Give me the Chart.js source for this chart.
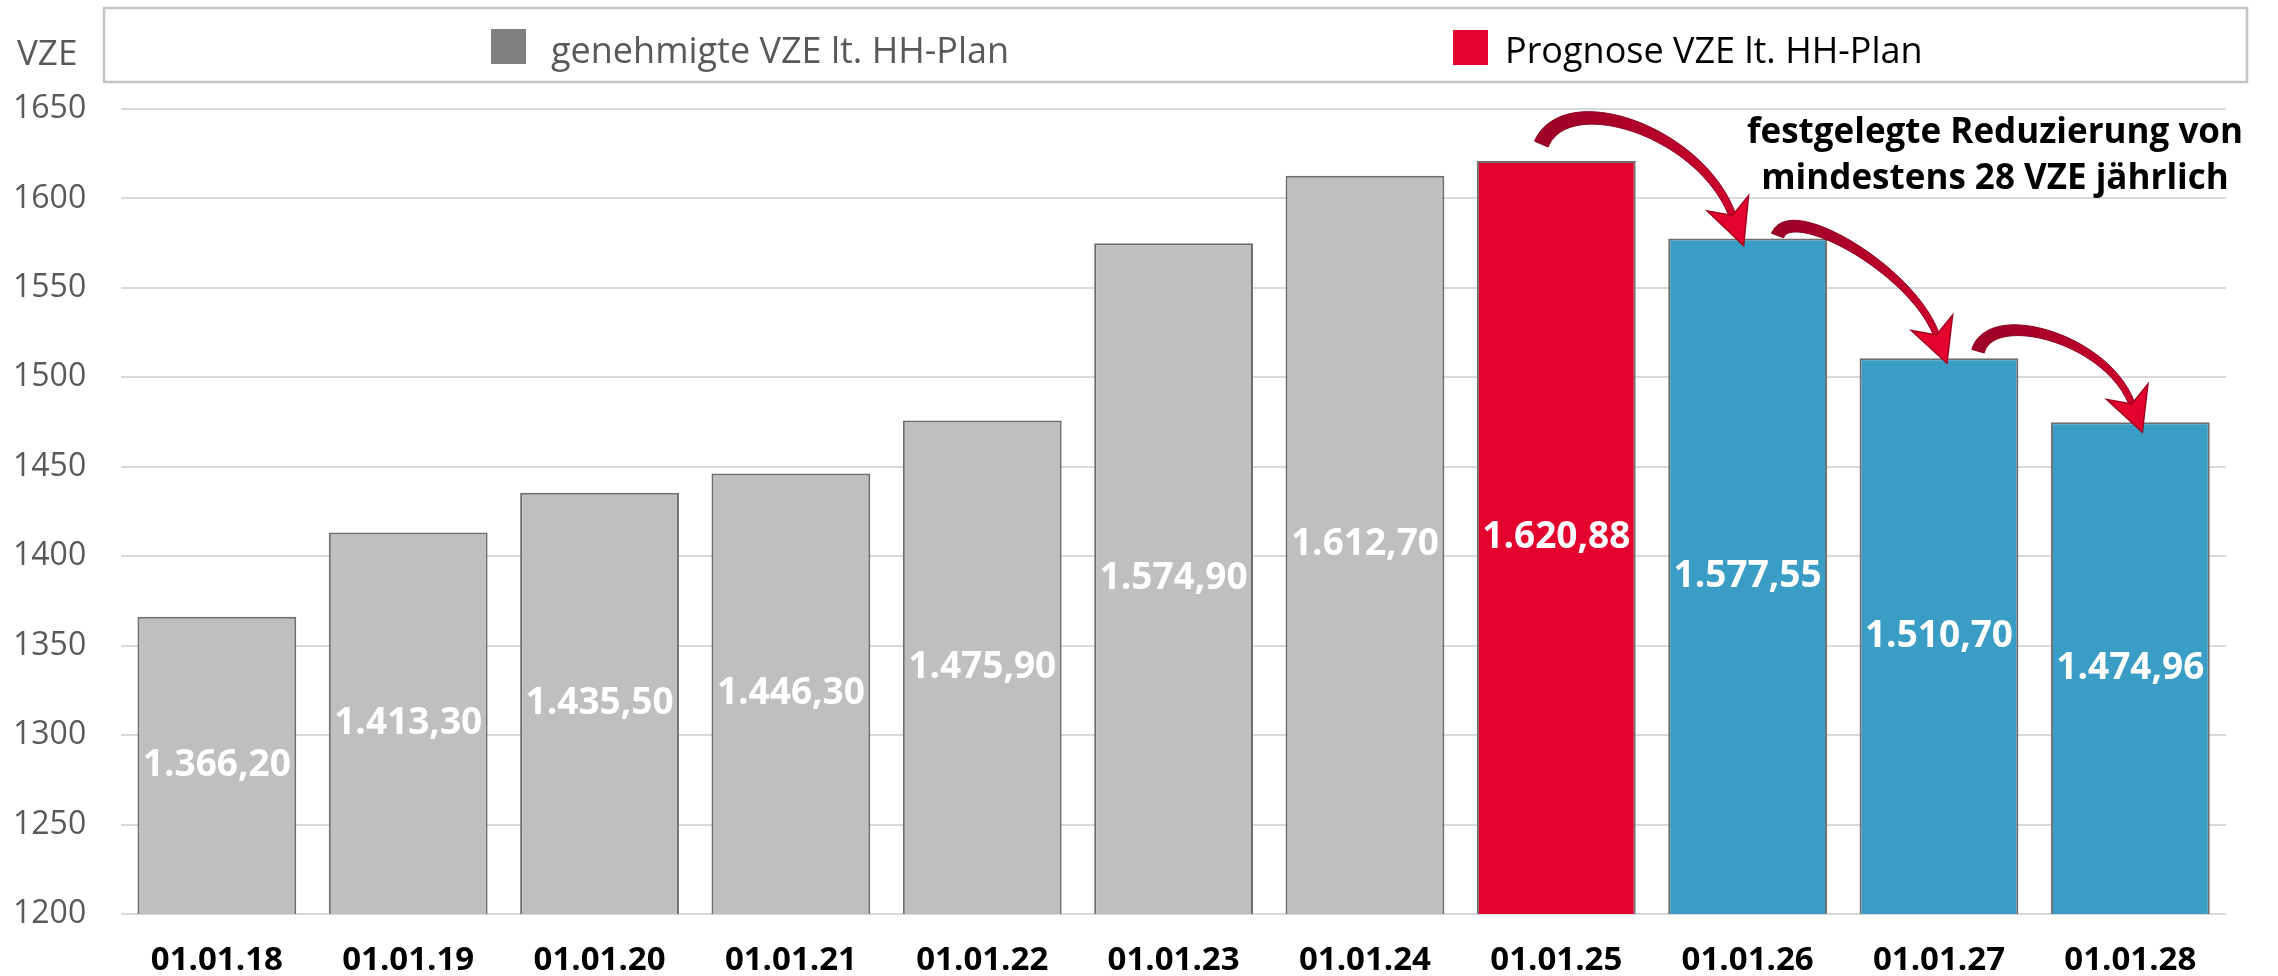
<!DOCTYPE html>
<html lang="de">
<head>
<meta charset="utf-8">
<title>VZE</title>
<script src="https://cdn.jsdelivr.net/npm/chart.js@4.4.1/dist/chart.umd.min.js"></script>
<style>
  html, body { margin: 0; padding: 0; background: #fff; }
  #wrap { width: 2278px; height: 976px; }
</style>
</head>
<body>
<div id="wrap"><canvas id="vzeChart" width="2278" height="976"></canvas></div>
<script>
var stichtage = ["01.01.18", "01.01.19", "01.01.20", "01.01.21", "01.01.22", "01.01.23",
  "01.01.24", "01.01.25", "01.01.26", "01.01.27", "01.01.28"];
var vze = [1366.20, 1413.30, 1435.50, 1446.30, 1475.90, 1574.90, 1612.70, 1620.88, 1577.55, 1510.70, 1474.96];
var art = ["genehmigt", "genehmigt", "genehmigt", "genehmigt", "genehmigt", "genehmigt",
  "genehmigt", "prognose", "reduziert", "reduziert", "reduziert"];
var yTicks = [1200, 1250, 1300, 1350, 1400, 1450, 1500, 1550, 1600, 1650];
var legendeText = ["genehmigte VZE lt. HH-Plan", "Prognose VZE lt. HH-Plan"];
var hinweis = ["festgelegte Reduzierung von", "mindestens 28 VZE jährlich"];
var einheit = "VZE";

var farbe = { genehmigt: "#bfbfbf", prognose: "#e4032e", reduziert: "#3a9dc5" };

// Pfeile von Balken zu Balken, Versatz in Pixel relativ zur Balkenmitte/-oberkante
var pfeile = [
  { von: 7, nach: 8, start: [-15, -17], c1: [25, -58], ziel: [-4, 7], c2: 90, len: 42, w0: 15, w1: 7 },
  { von: 8, nach: 9, start: [30, -3], c1: [13, -35], ziel: [8, 5], c2: 70, len: 40, w0: 13, w1: 6 },
  { von: 9, nach: 10, start: [39, -7], c1: [13, -45], ziel: [12, 10], c2: 70, len: 40, w0: 13, w1: 6 }
];

function fmt(v) {
  var s = v.toFixed(2).split(".");
  var ganz = s[0].replace(/\B(?=(\d{3})+(?!\d))/g, ".");
  return ganz + "," + s[1];
}

function bez(a, b, c, d, t) {
  var u = 1 - t;
  return {
    x: u * u * u * a.x + 3 * u * u * t * b.x + 3 * u * t * t * c.x + t * t * t * d.x,
    y: u * u * u * a.y + 3 * u * u * t * b.y + 3 * u * t * t * c.y + t * t * t * d.y
  };
}
function bezD(a, b, c, d, t) {
  var u = 1 - t;
  return {
    x: 3 * u * u * (b.x - a.x) + 6 * u * t * (c.x - b.x) + 3 * t * t * (d.x - c.x),
    y: 3 * u * u * (b.y - a.y) + 6 * u * t * (c.y - b.y) + 3 * t * t * (d.y - c.y)
  };
}

function zeichnePfeil(ctx, S, T, p) {
  var dx = 0.35, dy = 0.94;
  var P3 = { x: T.x - (p.len - 10) * dx, y: T.y - (p.len - 10) * dy };
  var P1 = { x: S.x + p.c1[0], y: S.y + p.c1[1] };
  var P2 = { x: P3.x - p.c2 * dx, y: P3.y - p.c2 * dy };
  var links = [], rechts = [];
  var N = 50;
  for (var k = 0; k <= N; k++) {
    var t = k / N;
    var q = bez(S, P1, P2, P3, t);
    var d = bezD(S, P1, P2, P3, t);
    var l = Math.sqrt(d.x * d.x + d.y * d.y);
    var nx = -d.y / l, ny = d.x / l;
    var w = p.w0 + (p.w1 - p.w0) * t;
    links.push([q.x + nx * w / 2, q.y + ny * w / 2]);
    rechts.push([q.x - nx * w / 2, q.y - ny * w / 2]);
  }
  ctx.save();
  var grad = ctx.createLinearGradient(S.x, S.y, T.x, T.y);
  grad.addColorStop(0, "#9e0027");
  grad.addColorStop(1, "#d4002c");
  ctx.beginPath();
  ctx.moveTo(links[0][0], links[0][1]);
  for (var i = 1; i < links.length; i++) ctx.lineTo(links[i][0], links[i][1]);
  for (var j = rechts.length - 1; j >= 0; j--) ctx.lineTo(rechts[j][0], rechts[j][1]);
  ctx.closePath();
  ctx.fillStyle = grad;
  ctx.fill();
  ctx.lineWidth = 1;
  ctx.strokeStyle = "#8a001f";
  ctx.stroke();

  // Spitze
  var E = { x: T.x - p.len * dx, y: T.y - p.len * dy };
  var px = -dy, py = dx, hw = 22;
  ctx.beginPath();
  ctx.moveTo(T.x, T.y);
  ctx.lineTo(E.x + px * hw - dx * 3, E.y + py * hw - dy * 3);
  ctx.lineTo(E.x + dx * 10, E.y + dy * 10);
  ctx.lineTo(E.x - px * hw - dx * 3, E.y - py * hw - dy * 3);
  ctx.closePath();
  ctx.fillStyle = "#e4032e";
  ctx.fill();
  ctx.lineWidth = 1.5;
  ctx.strokeStyle = "#a3001f";
  ctx.stroke();
  ctx.restore();
}

var extras = {
  id: "extras",
  afterDatasetsDraw: function (chart) {
    var ctx = chart.ctx;
    var xs = chart.scales.x, ys = chart.scales.y;
    var basis = ys.getPixelForValue(ys.min);
    ctx.save();
    ctx.font = "bold 37px 'Open Sans'";
    ctx.fillStyle = "#ffffff";
    ctx.textAlign = "center";
    ctx.textBaseline = "middle";
    vze.forEach(function (v, i) {
      ctx.fillText(fmt(v), xs.getPixelForValue(i), (ys.getPixelForValue(v) + basis) / 2);
    });
    ctx.restore();

    pfeile.forEach(function (p) {
      var S = { x: xs.getPixelForValue(p.von) + p.start[0], y: ys.getPixelForValue(vze[p.von]) + p.start[1] };
      var T = { x: xs.getPixelForValue(p.nach) + p.ziel[0], y: ys.getPixelForValue(vze[p.nach]) + p.ziel[1] };
      zeichnePfeil(ctx, S, T, p);
    });
  },
  afterDraw: function (chart) {
    var ctx = chart.ctx;
    ctx.save();
    // Legende
    ctx.strokeStyle = "#c4c4c4";
    ctx.lineWidth = 2.5;
    ctx.strokeRect(104, 8, 2143, 74);
    ctx.font = "36px 'Open Sans'";
    ctx.textBaseline = "alphabetic";
    ctx.textAlign = "left";
    ctx.fillStyle = "#808080";
    ctx.fillRect(491, 29, 35, 35);
    ctx.fillStyle = "#595959";
    ctx.fillText(legendeText[0], 551, 63);
    ctx.fillStyle = farbe.prognose;
    ctx.fillRect(1453, 30, 35, 35);
    ctx.fillStyle = "#000000";
    ctx.fillText(legendeText[1], 1505, 63);

    // Achsentitel
    ctx.font = "35px 'Open Sans'";
    ctx.fillStyle = "#595959";
    ctx.fillText(einheit, 17, 65);

    // Hinweistext
    ctx.font = "bold 35px 'Open Sans'";
    ctx.fillStyle = "#000000";
    ctx.textAlign = "center";
    ctx.fillText(hinweis[0], 1995, 143);
    ctx.fillText(hinweis[1], 1995, 189);
    ctx.restore();
  }
};

new Chart(document.getElementById("vzeChart"), {
  type: "bar",
  data: {
    labels: stichtage,
    datasets: [
      {
        label: einheit,
        data: vze,
        backgroundColor: art.map(function (a) { return farbe[a]; }),
        borderColor: "#6e6e6e",
        borderWidth: 2,
        borderSkipped: false,
        categoryPercentage: 1,
        barPercentage: 0.83
      }
    ]
  },
  options: {
    responsive: false,
    animation: false,
    devicePixelRatio: 1,
    layout: { padding: { top: 109, left: -22, right: 52, bottom: -31 } },
    plugins: {
      legend: { display: false },
      tooltip: { enabled: false }
    },
    scales: {
      x: {
        grid: { display: false, drawTicks: false },
        border: { display: false },
        ticks: {
          color: "#000000",
          padding: 30,
          font: { family: "'Open Sans'", size: 33, weight: "bold", lineHeight: 1 }
        }
      },
      y: {
        min: yTicks[0],
        max: yTicks[yTicks.length - 1],
        grid: { color: "#d9d9d9", lineWidth: 2, drawTicks: false },
        border: { display: false },
        ticks: {
          stepSize: yTicks[1] - yTicks[0],
          color: "#595959",
          padding: 35,
          font: { family: "'Open Sans'", size: 32 },
          callback: function (v) { return String(v); }
        }
      }
    }
  },
  plugins: [extras]
});
</script>
</body>
</html>
